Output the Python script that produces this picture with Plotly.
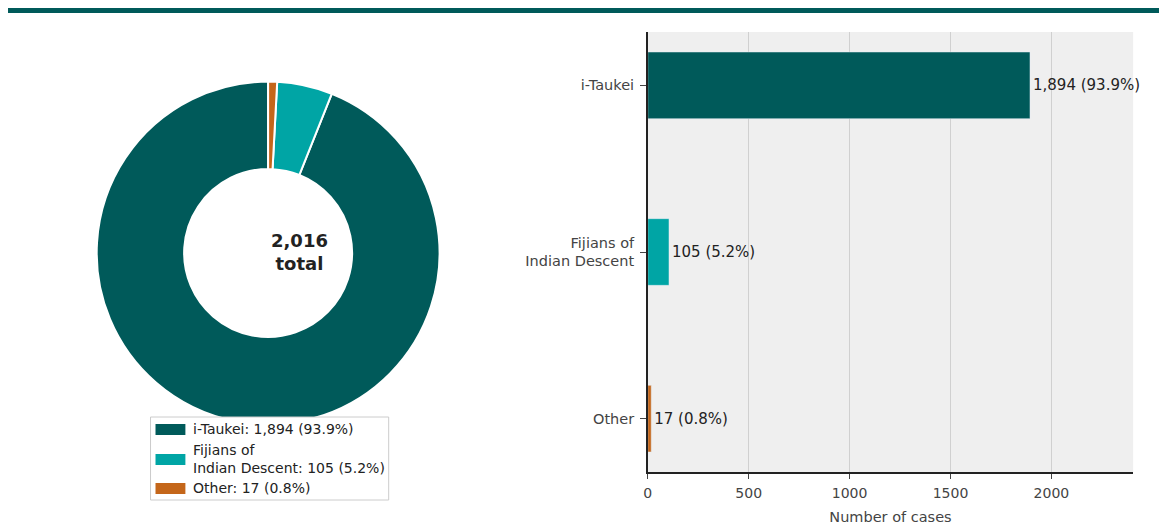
import plotly.graph_objects as go

groups = ["i-Taukei", "Fijians of<br>Indian Descent", "Other"]
cases = [1894, 105, 17]
colors = ["#005a5a", "#00a5a5", "#c4661a"]

total = sum(cases)
pct = [c / total * 100 for c in cases]
bar_text = [f"{c:,} ({p:.1f}%)" for c, p in zip(cases, pct)]
legend_names = [f"{g}: {c:,} ({p:.1f}%)" for g, c, p in zip(groups, cases, pct)]

# page body adds an 8px margin, so the figure is drawn 8px in
OFF = 8
W, H = 1167 - OFF, 525 - OFF
font = "DejaVu Sans, Noto Sans, sans-serif"


def px(x):
    return (x - OFF) / W


def py(y):
    return 1 - (y - OFF) / H


fig = go.Figure()

# plotly puts the first slice clockwise from `rotation`, so shift it
start = 360 * (total - cases[0]) / total
fig.add_trace(go.Pie(
    labels=groups, values=cases, sort=False,
    direction="counterclockwise", rotation=start, hole=0.49,
    marker=dict(colors=colors, line=dict(color="white", width=2)),
    textinfo="none", hoverinfo="label", showlegend=False,
    domain=dict(x=[px(93), px(437)], y=[py(425), py(81)]),
))

fig.add_trace(go.Bar(
    y=groups, x=cases, orientation="h", width=0.4,
    marker=dict(color=colors), text=bar_text, textposition="outside",
    textfont=dict(size=15, color="#222222"), cliponaxis=False,
    showlegend=False, xaxis="x", yaxis="y",
))

# hand-made legend with wide colour patches
shapes = [
    dict(type="rect", xref="paper", yref="paper",
         x0=px(4), x1=1, y0=py(13), y1=py(6),
         fillcolor="#005a5a", line=dict(width=0)),
    dict(type="rect", xref="paper", yref="paper",
         x0=px(147), x1=px(386), y0=py(500), y1=py(417),
         fillcolor="white", line=dict(color="#cccccc", width=1)),
]
annotations = [dict(text="<b>2,016<br>total</b>", x=px(266), y=py(252),
                    xref="paper", yref="paper", showarrow=False,
                    font=dict(size=18, color="#222222"))]
row_y = [429, 459, 488]
for name, col, yy in zip(legend_names, colors, row_y):
    shapes.append(dict(type="rect", xref="paper", yref="paper",
                       x0=px(152), x1=px(182), y0=py(yy + 6), y1=py(yy - 5),
                       fillcolor=col, line=dict(width=0)))
    annotations.append(dict(text=name, x=px(188), y=py(yy), xref="paper",
                            yref="paper", xanchor="left", yanchor="middle",
                            align="left", showarrow=False,
                            font=dict(size=14, color="#222222")))

fig.update_layout(
    width=W, height=H,
    margin=dict(l=0, r=0, t=0, b=0),
    paper_bgcolor="white", plot_bgcolor="#efefef",
    font=dict(family=font, size=13, color="#444444"),
    showlegend=False,
    xaxis=dict(domain=[px(646), px(1133)], range=[0, 2405],
               tickvals=[0, 500, 1000, 1500, 2000], showgrid=True,
               gridcolor="#d0d0d0", gridwidth=1, zeroline=False,
               showline=True, linecolor="#222222", linewidth=1.5,
               ticks="outside", ticklen=5, tickcolor="#444444",
               ticklabelstandoff=2,
               tickfont=dict(size=14, color="#444444"),
               title=dict(text="Number of cases", font=dict(size=14.5, color="#444444"), standoff=12),
               anchor="y"),
    yaxis=dict(domain=[py(472), py(32)], range=[2.32, -0.32],
               showgrid=False, zeroline=False, showline=True,
               linecolor="#222222", linewidth=1.5, ticks="outside",
               ticklen=6, tickcolor="#444444", ticklabelstandoff=3,
               tickfont=dict(size=14.5, color="#444444"), anchor="x"),
    shapes=shapes,
    annotations=annotations,
)

fig.write_html("out.html")
